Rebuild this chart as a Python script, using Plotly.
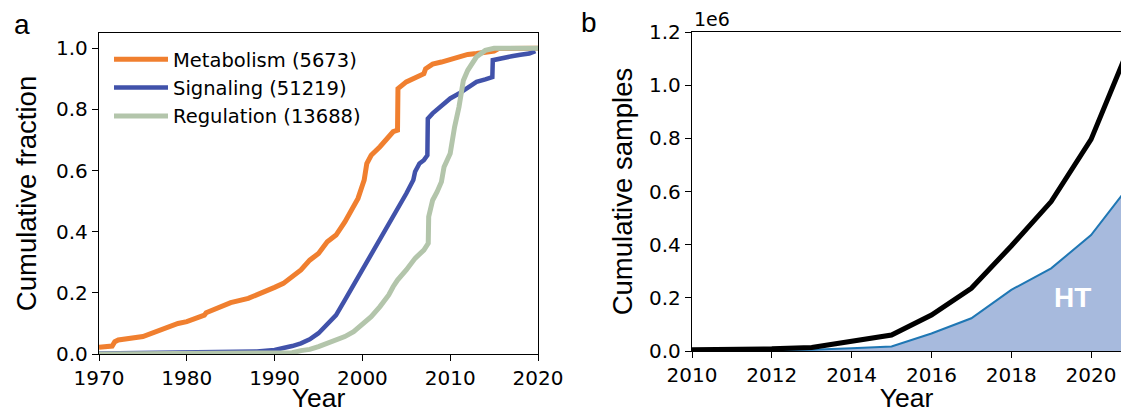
import plotly.graph_objects as go

# ---------------- Panel a data ----------------
met_year = [1970, 1971.5, 1971.8, 1972.2, 1975, 1976, 1977, 1978, 1979, 1980, 1982, 1982.2,
            1984, 1985, 1987, 1988, 1989, 1990, 1991, 1992, 1993, 1994, 1995, 1996, 1997,
            1998, 1999, 1999.5, 2000, 2000.2, 2000.5, 2001, 2002, 2003, 2003.5, 2004, 2004.05,
            2005, 2006, 2007, 2007.2, 2008, 2009, 2010, 2011, 2012, 2013, 2014, 2015, 2015.5, 2020]
met_frac = [0.022, 0.026, 0.04, 0.046, 0.057, 0.068, 0.078, 0.089, 0.10, 0.106, 0.127, 0.135,
            0.155, 0.168, 0.182, 0.193, 0.204, 0.218, 0.231, 0.253, 0.275, 0.307, 0.329, 0.367, 0.389,
            0.432, 0.481, 0.509, 0.552, 0.569, 0.623, 0.65, 0.678, 0.71, 0.727, 0.732, 0.868,
            0.89, 0.904, 0.917, 0.933, 0.948, 0.955, 0.963, 0.974, 0.98, 0.983, 0.985, 0.991, 0.999, 1.0]

sig_year = [1970, 1985, 1988, 1990, 1991, 1992, 1993, 1994, 1995, 1996, 1997, 1998, 1999, 2000,
            2001, 2002, 2003, 2004, 2005, 2005.8, 2006, 2006.5, 2007, 2007.4, 2007.45, 2008, 2009,
            2010, 2011, 2012, 2013, 2014, 2014.8, 2014.85, 2016, 2017, 2018, 2019, 2019.7]
sig_frac = [0.002, 0.004, 0.008, 0.013, 0.019, 0.026, 0.035, 0.048, 0.068, 0.095, 0.127, 0.176, 0.225, 0.277,
            0.329, 0.378, 0.427, 0.476, 0.525, 0.569, 0.596, 0.623, 0.634, 0.65, 0.77, 0.787, 0.814,
            0.836, 0.852, 0.871, 0.89, 0.898, 0.906, 0.961, 0.966, 0.974, 0.979, 0.983, 0.991]

reg_year = [1970, 1991, 1992, 1993, 1994, 1995, 1996, 1997, 1998, 1999, 2000, 2001, 2002, 2003, 2003.5,
            2004, 2005, 2006, 2007, 2007.5, 2007.55, 2008, 2008.5, 2009, 2009.3, 2010, 2010.5, 2011,
            2011.5, 2012, 2013, 2014, 2015, 2020]
reg_frac = [0.0, 0.001, 0.004, 0.011, 0.015, 0.024, 0.035, 0.046, 0.057, 0.073, 0.095, 0.122, 0.155, 0.193, 0.22,
            0.242, 0.275, 0.313, 0.34, 0.362, 0.449, 0.503, 0.53, 0.563, 0.612, 0.656, 0.743, 0.808,
            0.895, 0.928, 0.972, 0.993, 1.0, 1.0]

series_names = ["Metabolism (5673)", "Signaling (51219)", "Regulation (13688)"]
series_colors = ["#f07f2f", "#4152aa", "#b3c5ab"]

# ---------------- Panel b data ----------------
b_years = [2010, 2011, 2012, 2013, 2014, 2015, 2016, 2017, 2018, 2019, 2020, 2021]
total_samples = [5000, 6000, 8000, 13000, 35000, 60000, 135000, 236000, 395000, 562000, 796000, 1160000]
ht_samples = [3000, 3500, 4000, 5000, 10000, 17000, 66000, 123000, 230000, 311000, 436000, 630000]

a_yticks = [0, 0.2, 0.4, 0.6, 0.8, 1.0]
a_xticks = [1970, 1980, 1990, 2000, 2010, 2020]
b_yticks = [0, 200000, 400000, 600000, 800000, 1000000, 1200000]
b_yticklabels = ["0.0", "0.2", "0.4", "0.6", "0.8", "1.0", "1.2"]
b_xticks = [2010, 2012, 2014, 2016, 2018, 2020]

W, H = 1121, 413
TICKFONT = dict(family="DejaVu Sans", size=20, color="black")
YTITLEFONT = dict(family="Liberation Sans, Arial", size=27.5, color="black")
XTITLEFONT = dict(family="Liberation Sans, Arial", size=26.5, color="black")

fig = go.Figure()

for yrs, vals, name, col, w in zip([met_year, sig_year, reg_year], [met_frac, sig_frac, reg_frac],
                                   series_names, series_colors, [5, 4.5, 5]):
    fig.add_trace(go.Scatter(x=yrs, y=vals, mode="lines", name=name,
                             line=dict(color=col, width=w), xaxis="x", yaxis="y"))

fig.add_trace(go.Scatter(x=b_years, y=ht_samples, mode="lines", fill="tozeroy",
                         fillcolor="#a7badd", line=dict(color="#1f77b4", width=2),
                         showlegend=False, xaxis="x2", yaxis="y2"))
fig.add_trace(go.Scatter(x=b_years, y=total_samples, mode="lines",
                         line=dict(color="black", width=5),
                         showlegend=False, xaxis="x2", yaxis="y2"))

axis_common = dict(showgrid=False, zeroline=False, showline=True, linecolor="black", linewidth=1.3,
                   ticks="outside", ticklen=6, tickwidth=1.3, tickcolor="black",
                   tickfont=TICKFONT, automargin=False)

fig.update_layout(
    width=W, height=H,
    margin=dict(l=0, r=0, t=0, b=0),
    paper_bgcolor="white", plot_bgcolor="white",
    xaxis=dict(domain=[99 / W, 538 / W], range=[1970, 2020], tickvals=a_xticks, mirror=True,
               title=dict(text="Year", font=XTITLEFONT, standoff=9), anchor="y", **axis_common),
    yaxis=dict(domain=[(H - 354) / H, (H - 33) / H], range=[0, 1.05], tickvals=a_yticks,
               tickformat=".1f", mirror=True,
               title=dict(text="Cumulative fraction", font=YTITLEFONT, standoff=11), anchor="x",
               **axis_common),
    xaxis2=dict(domain=[692 / W, 1.0], range=[2010, 2020.75], tickvals=b_xticks, mirror=True,
                title=dict(text="Year", font=XTITLEFONT, standoff=9), anchor="y2", **axis_common),
    yaxis2=dict(domain=[(H - 351) / H, (H - 32) / H], range=[0, 1.2e6], tickvals=b_yticks,
                ticktext=b_yticklabels, mirror=False,
                title=dict(text="Cumulative samples", font=YTITLEFONT, standoff=8), anchor="x2",
                **axis_common),
    legend=dict(x=109 / W, y=1 - 40 / H, xanchor="left", yanchor="top",
                bgcolor="rgba(0,0,0,0)", font=dict(family="DejaVu Sans", size=19.5, color="black"),
                itemwidth=54, tracegroupgap=0),
    showlegend=True,
)

fig.add_annotation(text="a", xref="paper", yref="paper", x=12 / W, y=1 - 24 / H,
                   xanchor="left", yanchor="middle", showarrow=False,
                   font=dict(family="Liberation Sans, Arial", size=28, color="black"))
fig.add_annotation(text="b", xref="paper", yref="paper", x=579 / W, y=1 - 22 / H,
                   xanchor="left", yanchor="middle", showarrow=False,
                   font=dict(family="Liberation Sans, Arial", size=28, color="black"))
fig.add_annotation(text="1e6", xref="paper", yref="paper", x=692 / W, y=1 - 19 / H,
                   xanchor="left", yanchor="middle", showarrow=False,
                   font=dict(family="DejaVu Sans", size=19, color="black"))
fig.add_annotation(text="<b>HT</b>", xref="x2", yref="y2", x=2019.53, y=200000,
                   xanchor="center", yanchor="middle", showarrow=False,
                   font=dict(family="Liberation Sans, Arial", size=28, color="white"))

fig.write_html("out.html", config={"displayModeBar": False},
               post_script="document.body.style.margin='0';document.body.style.overflow='hidden';")
